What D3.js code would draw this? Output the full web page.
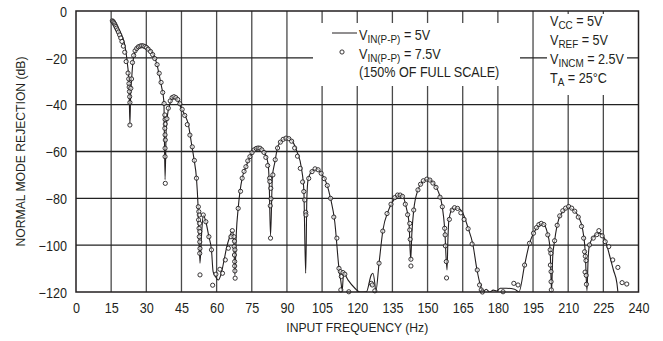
<!DOCTYPE html>
<html><head><meta charset="utf-8">
<script src="https://cdn.jsdelivr.net/npm/d3@7/dist/d3.min.js"></script>
<style>
html,body{margin:0;padding:0;background:#fff;}
svg{display:block;}
text{fill:#231f20;font-family:"Liberation Sans",Arial,Helvetica,sans-serif;}
</style></head>
<body><svg id="c" width="663" height="341"></svg>
<script>
// ---- data ----
const freqTicks = [0,15,30,45,60,75,90,105,120,135,150,165,180,195,210,225,240];
const dbTicks = [0,-20,-40,-60,-80,-100,-120];
const xTitle = "INPUT FREQUENCY (Hz)";
const yTitle = "NORMAL MODE REJECTION (dB)";

// V_IN(P-P) = 5V : solid line  [frequency Hz, rejection dB]
const series5V = [
[15.5,-4.2],[16.6,-5.7],[18.0,-7.4],[19.5,-10.2],[20.5,-13.1],[21.3,-17.4],[22.0,-23.1],[22.6,-30.2],
[23.0,-48.5],[23.3,-36],[23.7,-29.5],[24.4,-20.9],[25.6,-16.7],[27.0,-15.5],[28.4,-14.9],[30.1,-15.2],
[31.5,-16.4],[33.0,-18.8],[34.4,-22.3],[35.5,-27.3],[36.5,-32.3],[37.5,-38.7],[38.0,-72],[38.5,-50],
[38.9,-45.5],[40.1,-39.5],[41.6,-36.9],[43.2,-37.7],[44.6,-40.9],[46.5,-44.6],[47.9,-48.3],[49.3,-56.8],
[50.4,-63.6],[51.4,-71.4],[52.1,-83.6],[52.9,-107.7],[53.6,-95],[54.3,-87.1],[55.4,-90],[56.7,-96.4],
[57.8,-102],[58.5,-111.3],[59.5,-113.4],[60.7,-114.9],[61.8,-112.7],[63.2,-106.3],[64.2,-101.3],
[65.6,-96.4],[66.6,-94.2],[67.3,-96.5],[67.8,-113],[68.4,-95],[69.2,-84.3],[70.9,-71.4],[72.3,-67.2],
[74.2,-62.2],[76.0,-59.3],[78.0,-58.6],[79.8,-59.6],[80.6,-60.8],[81.9,-65],[82.4,-72.2],[83.0,-96],
[83.8,-70.7],[84.8,-64.8],[86.2,-57.6],[88.4,-54.8],[90.1,-54.1],[92.4,-55.8],[94.3,-60.1],[96.2,-67.2],
[97.2,-76.4],[98.0,-112],[98.5,-80],[99.0,-72.2],[100.5,-68.6],[102.6,-67.5],[104.7,-69.3],[106.9,-73.6],
[108.6,-80],[110.4,-90],[112.2,-109.9],[113.2,-117],[113.5,-120],[114.2,-112],[116.1,-114.9],[119.0,-118.4],
[121.1,-120],[123.9,-119.9],[126.0,-112.7],[126.7,-112],[127.5,-116.3],[127.9,-120],[129.3,-107.7],
[131.0,-93.3],[133.1,-85.7],[135.3,-81.1],[137.4,-78.6],[139.3,-79],[141.0,-84.3],[142.1,-90.7],
[142.8,-106.3],[143.3,-95],[144.1,-85],[145.9,-76.4],[148.0,-72.9],[150.2,-71.9],[152.3,-73.2],
[154.4,-76.7],[156.3,-83.6],[157.3,-92.8],[158.3,-110.6],[158.7,-97],[159.1,-89.2],[160.8,-84.3],
[163.0,-84.3],[165.4,-87.1],[167.2,-92.4],[169.3,-99.5],[171.1,-110.6],[172.5,-117],[173.6,-120],
[175.0,-118.8],[176.5,-120],[178.0,-119.2],[179.5,-119.6],[181.0,-118.4],[183.6,-118.4],[187.1,-118.8],
[189.0,-119.9],[191.4,-108.5],[193.5,-99.2],[195.2,-94.9],[197.4,-91.7],[199.2,-90.9],[201.3,-95.4],
[202.3,-102],[202.9,-119.9],[203.4,-105],[204.2,-98.1],[206.0,-88.8],[208.0,-85.3],[210.2,-83.8],
[212.3,-85],[214.4,-87.8],[216.2,-93.5],[217.3,-103.5],[218.0,-119.5],[218.5,-106],[219.1,-99.9],
[221.3,-95.9],[223.4,-94.9],[225.5,-97],[227.6,-104.2],[229.3,-110.6],[230.8,-116.3],[231.2,-119.9]
];

// V_IN(P-P) = 7.5V (150% of full scale) : open circles
const series75V = [
[15.5,-4.2],[15.8,-4.5],[16.1,-4.9],[16.4,-5.4],[16.7,-6.0],[17.0,-6.6],[17.3,-7.3],[17.7,-8.1],
[18.1,-9.0],[18.6,-10.2],[19.1,-11.5],[19.6,-13.0],[20.2,-15.0],[20.8,-17.6],[21.4,-21.6],[22.2,-26.5],
[22.5,-29],[22.6,-31],[22.7,-32.5],[22.8,-34.4],[22.9,-36.6],[23.0,-39.1],[23.0,-48.7],[23.4,-33],
[23.7,-29],[24.1,-22],[24.6,-19],[25.2,-17],[25.9,-16],[26.6,-15.3],[27.3,-15],[28.0,-14.8],[28.7,-14.9],
[29.4,-15.2],[30.1,-15.6],[30.8,-16.3],[31.8,-17.3],[32.7,-18.6],[33.6,-20.3],[34.6,-22.9],[35.5,-26.6],
[36.3,-30.5],[37.0,-34.8],[37.6,-39.5],[37.9,-44.4],[38.0,-46.3],[38.1,-48.3],[37.9,-50.1],[38.0,-52.9],
[38.1,-55.1],[38.0,-58.6],[38.0,-62.2],[38.1,-73.6],[38.8,-46],[39.4,-41.5],[40.2,-38.4],[41.0,-37.0],
[41.8,-36.6],[42.6,-37.0],[43.4,-37.8],[44.3,-39.6],[45.3,-42.0],[46.4,-44.6],[47.5,-48.5],[48.6,-53],
[49.6,-58],[50.5,-63.8],[51.4,-71.4],[52.2,-83.6],[52.4,-85.7],[52.6,-87.1],[52.3,-89.2],[52.7,-90.7],
[52.5,-92.8],[52.8,-94.2],[52.6,-96.4],[52.8,-98.6],[52.9,-101.4],[52.8,-103.5],[52.9,-112.7],
[54.3,-87.1],[55.4,-90],[56.7,-96.4],[57.8,-102],[58.3,-117.1],[59.7,-112.4],[61.4,-110.3],[62.5,-112],
[63.7,-106.3],[65.0,-101.3],[66.1,-96.4],[66.7,-93.8],[67.4,-96.4],[67.6,-98.3],[67.5,-100.6],
[67.8,-102],[67.6,-104.2],[67.7,-107],[67.7,-108.9],[67.8,-111],[67.9,-114.1],[69.2,-84.3],[70.2,-77],
[70.9,-71.4],[71.7,-68.5],[72.5,-66.5],[73.3,-64],[74.2,-62.2],[75.1,-60.5],[76.0,-59.3],[76.9,-58.7],
[77.7,-58.5],[78.5,-58.6],[79.3,-59.3],[80.2,-60.4],[81.0,-62.5],[81.8,-66],[82.6,-71.4],[82.7,-72.8],
[83.1,-75.7],[83.2,-80.2],[82.9,-83.2],[83.0,-97],[84.0,-70],[85.0,-63.5],[86.0,-58.5],[87.2,-56],
[88.4,-54.8],[89.6,-54.3],[90.8,-54.5],[92.0,-55.6],[93.3,-58.5],[94.5,-62],[95.7,-67.2],[96.7,-73],
[97.2,-77.1],[97.6,-80.7],[98.0,-86],[98.1,-87.1],[99.3,-71.5],[100.7,-68.6],[102.0,-67.4],
[103.3,-67.8],[104.6,-69.3],[105.9,-71.6],[107.2,-74.5],[108.6,-80],[110.0,-88],[111.3,-97],
[112.2,-109.9],[112.8,-111.3],[113.2,-113.4],[113.9,-111.7],[114.7,-112.4],[113.0,-119.1],[116.4,-119.9],
[126.0,-116.3],[126.4,-117],[127.5,-119.5],[129.3,-107.7],[130.9,-94],[132.7,-86.5],[134.4,-82.5],
[136.0,-79.7],[137.2,-78.6],[138.3,-78.6],[139.3,-79.2],[140.5,-82.5],[141.5,-87],[142.4,-90.7],
[142.4,-93.5],[142.6,-97.5],[142.9,-106],[142.9,-108.9],[144.1,-85],[145.9,-76.4],[147.0,-74],
[148.2,-72.5],[149.7,-71.8],[151.0,-72.2],[152.3,-73.5],[153.6,-75.3],[155.3,-79.5],[156.3,-83.6],
[157.3,-92.8],[157.5,-95.6],[157.6,-100.3],[158.0,-107],[158.1,-114],[159.3,-89],[160.5,-85],
[161.5,-84],[162.8,-84.3],[164.2,-86.2],[165.6,-89],[167.3,-93],[169.0,-99.5],[171.2,-110.6],
[172.2,-117],[172.9,-119.1],[173.4,-120],[182.2,-119.9],[186.8,-116.3],[188.6,-117],[191.4,-108.5],
[193.5,-99.2],[195.2,-94.9],[196.5,-92.5],[197.5,-91.2],[198.5,-90.7],[199.6,-91.2],[201.3,-95.6],
[202.3,-102],[202.6,-103.5],[202.4,-108.5],[202.7,-111.3],[202.7,-115.6],[202.8,-119.1],[204.2,-98.1],
[205.3,-91.5],[206.4,-87.5],[207.7,-85.3],[208.9,-84.2],[210.2,-83.5],[211.5,-84.2],[212.8,-85.5],
[214.3,-88],[215.7,-92],[216.6,-97],[217.0,-102.8],[217.3,-104.7],[217.6,-106.6],[217.2,-111.5],
[217.7,-112.9],[217.8,-116.7],[219.1,-99.9],[220.7,-97],[222.2,-95.5],[223.1,-93.8],[224.5,-96],
[225.8,-98.5],[227.3,-100.6],[229.0,-106.3],[231.2,-109.5],[233.0,-116],[235.0,-116.6]
];

const FS = 14, FSS = 11, FT = 13.5, SQUEEZE = 0.9;

// ---- drawing ----
const svg = d3.select("#c");
const L = 76, R = 638.5, T = 11, B = 292;
const x = d3.scaleLinear().domain([0,240]).range([L,R]);
const y = d3.scaleLinear().domain([0,-120]).range([T,B]);
const ink = "#231f20";

// grid
const grid = svg.append("g");
grid.selectAll("line.v").data(freqTicks.slice(1,-1)).join("line")
  .attr("x1",d=>x(d)).attr("x2",d=>x(d)).attr("y1",T).attr("y2",B)
  .attr("stroke","#4a4a4a").attr("stroke-width",1.3);
grid.selectAll("line.h").data(dbTicks.slice(1,-1)).join("line")
  .attr("x1",L).attr("x2",R).attr("y1",d=>y(d)).attr("y2",d=>y(d))
  .attr("stroke","#222").attr("stroke-width",1.3);

// legend backgrounds (knock out grid)
svg.append("rect").attr("x",313).attr("y",23).attr("width",207).attr("height",63).attr("fill","#fff");
svg.append("rect").attr("x",547).attr("y",14).attr("width",80).attr("height",81).attr("fill","#fff");

// data
svg.append("clipPath").attr("id","pc").append("rect")
  .attr("x",L).attr("y",T-2).attr("width",R-L).attr("height",B-T+2);
const plot = svg.append("g").attr("clip-path","url(#pc)");
const line = d3.line().x(d=>x(d[0])).y(d=>y(d[1])).curve(d3.curveMonotoneX);
plot.append("path").datum(series5V).attr("d",line)
  .attr("fill","none").attr("stroke",ink).attr("stroke-width",1.1);
svg.append("g").selectAll("circle").data(series75V).join("circle")
  .attr("cx",d=>x(d[0])).attr("cy",d=>y(d[1])).attr("r",2.1)
  .attr("fill","#fff").attr("fill-opacity",0.6).attr("stroke",ink).attr("stroke-width",0.9);

// frame
svg.append("rect").attr("x",L).attr("y",T).attr("width",R-L).attr("height",B-T)
  .attr("fill","none").attr("stroke",ink).attr("stroke-width",1.5);

// axes
const xAxis = d3.axisBottom(x).tickValues(freqTicks).tickSize(0).tickPadding(0).tickFormat(d3.format("d"));
const gx = svg.append("g").attr("transform",`translate(0,${B})`).call(xAxis);
gx.select(".domain").remove();
gx.selectAll("text").attr("dy",null).attr("y",20.5).attr("fill",ink)
  .style("font-family",null).style("font-size",FS+"px").attr("font-family",null);
const yAxis = d3.axisLeft(y).tickValues(dbTicks).tickSize(0).tickPadding(0).tickFormat(d3.format("d"));
const gy = svg.append("g").attr("transform",`translate(${L-9},0)`).call(yAxis);
gy.select(".domain").remove();
gy.selectAll("text").attr("dy","0.38em").attr("x",0).attr("fill",ink)
  .style("font-size",FS+"px");
gx.attr("font-family",null); gy.attr("font-family",null);

svg.append("text").attr("x",(L+R)/2).attr("y",332).attr("text-anchor","middle")
  .style("font-size",FT+"px").text(xTitle);
svg.append("text").attr("transform",`translate(25,${(T+B)/2}) rotate(-90)`).attr("text-anchor","middle")
  .style("font-size",FT+"px").text(yTitle);

// legend
svg.append("line").attr("x1",332).attr("x2",357).attr("y1",33).attr("y2",33).attr("stroke",ink).attr("stroke-width",1);
svg.append("circle").attr("cx",342).attr("cy",52).attr("r",2.1).attr("fill","#fff").attr("stroke",ink).attr("stroke-width",0.9);
function label(x0, y0, main, s, rest){
  const tx = svg.append("text").attr("x",x0).attr("y",y0).style("font-size",FS+"px");
  tx.append("tspan").text(main);
  if (s) tx.append("tspan").style("font-size",FSS+"px").attr("dy",3).text(s);
  if (rest) tx.append("tspan").attr("dy",s?-3:0).text(rest);
}
label(359,40,"V","IN(P-P)"," = 5V");
label(359,59,"V","IN(P-P)"," = 7.5V");
label(359,77,"(150% OF FULL SCALE)","","");
label(550,26,"V","CC"," = 5V");
label(550,45,"V","REF"," = 5V");
label(550,64,"V","INCM"," = 2.5V");
label(550,83,"T","A"," = 25°C");

// condensed look (Helvetica Condensed in the original)
svg.selectAll("text").each(function(){
  const len = this.getComputedTextLength();
  this.setAttribute("textLength", (len*SQUEEZE).toFixed(2));
  this.setAttribute("lengthAdjust","spacingAndGlyphs");
});
</script></body></html>
